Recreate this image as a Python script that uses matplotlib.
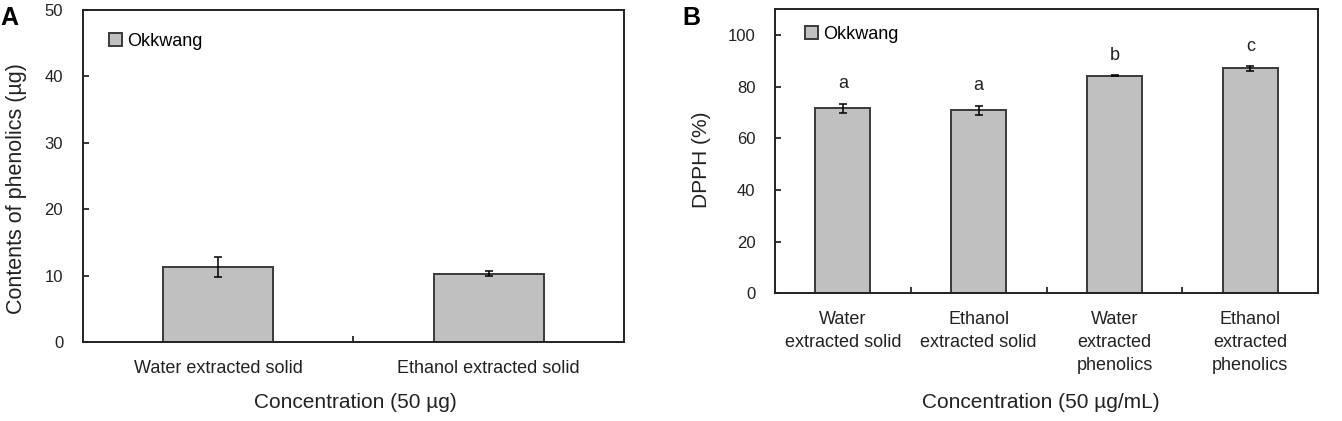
import matplotlib.pyplot as plt
from matplotlib.ticker import FixedLocator, NullFormatter

plt.rcParams['font.family'] = ['Liberation Sans', 'DejaVu Sans']

# Panel A - phenolic contents
solid_labels = ['Water extracted solid', 'Ethanol extracted solid']
phenolic_content = [11.3, 10.3]
phenolic_err = [1.55, 0.4]

# Panel B - DPPH scavenging
dpph_labels = ['Water\nextracted solid', 'Ethanol\nextracted solid',
               'Water\nextracted\nphenolics', 'Ethanol\nextracted\nphenolics']
dpph_values = [71.6, 70.9, 84.3, 87.1]
dpph_err = [1.9, 1.8, 0.3, 0.9]
dpph_letters = ['a', 'a', 'b', 'c']

series_name = 'Okkwang'

bar_kw = dict(width=0.405, color='#c0c0c0', edgecolor='#3a3a3a', linewidth=1.4,
              error_kw=dict(ecolor='black', elinewidth=1.1, capsize=2.6, capthick=1.1))


def draw_panel(ax, labels, values, err, ymax, ytop, ystep):
    x = list(range(len(labels)))
    ax.bar(x, values, yerr=err, label=series_name, **bar_kw)
    ax.set_xlim(-0.5, len(labels) - 0.5)
    ax.set_ylim(0, ymax)
    ax.set_yticks(range(0, ytop + 1, ystep))
    ax.set_xticks(x)
    ax.set_xticklabels(labels)
    ax.xaxis.set_minor_locator(FixedLocator([i + 0.5 for i in range(len(labels) - 1)]))
    ax.xaxis.set_minor_formatter(NullFormatter())
    ax.tick_params(axis='x', which='major', length=0, pad=13, labelsize=13, labelcolor='#222222')
    ax.tick_params(axis='x', which='minor', direction='in', length=4, width=1.1)
    ax.tick_params(axis='y', direction='in', length=4, width=1.1, pad=14, labelsize=12,
                   labelcolor='#222222')
    for s in ax.spines.values():
        s.set_linewidth(1.4)
        s.set_color('#222222')


fig = plt.figure(figsize=(13.42, 4.21), dpi=100)
axA = fig.add_axes([0.0616, 0.1876, 0.4034, 0.7898])
axB = fig.add_axes([0.5775, 0.3033, 0.4048, 0.6746])

draw_panel(axA, solid_labels, phenolic_content, phenolic_err, 50, 50, 10)
draw_panel(axB, dpph_labels, dpph_values, dpph_err, 110, 100, 20)
for t in axB.get_xticklabels():
    t.set_linespacing(1.45)

# significance letters
for i, (v, e, s) in enumerate(zip(dpph_values, dpph_err, dpph_letters)):
    axB.text(i, v + e + 7.7, s, ha='center', va='center', fontsize=13, color='#222222')

# axis labels
axA.set_xlabel('Concentration (50 µg)', fontsize=15, color='#222222')
axA.xaxis.set_label_coords(0.503, -0.1805)
axA.xaxis.label.set_va('center')
axA.set_ylabel('Contents of phenolics (µg)', fontsize=15.5, color='#222222')
axA.yaxis.set_label_coords(-0.123, 0.463)
axA.yaxis.label.set_va('center')

axB.set_xlabel('Concentration (50 µg/mL)', fontsize=15, color='#222222')
axB.xaxis.set_label_coords(0.49, -0.383)
axB.xaxis.label.set_va('center')
axB.set_ylabel('DPPH (%)', fontsize=15, color='#222222')
axB.yaxis.set_label_coords(-0.135, 0.469)
axB.yaxis.label.set_va('center')

# legends
for ax, pos in [(axA, (0.049, 0.905)), (axB, (0.055, 0.912))]:
    ax.legend(loc='center left', bbox_to_anchor=pos, frameon=False, fontsize=13,
              handlelength=0.72, handleheight=0.72, handletextpad=0.3,
              borderpad=0, borderaxespad=0)

# panel letters
fig.text(0.0, 1 - 6 / 421, 'A', ha='left', va='top', fontsize=18, weight='bold')
fig.text(682 / 1342, 1 - 6 / 421, 'B', ha='left', va='top', fontsize=18, weight='bold')

fig.savefig('out.png', dpi=100)
